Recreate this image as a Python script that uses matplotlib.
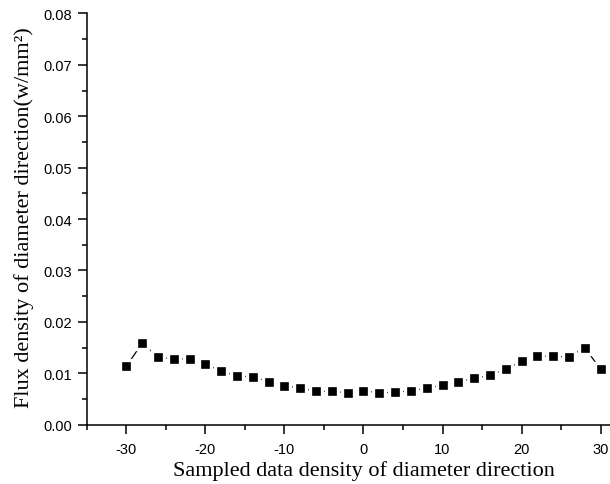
import matplotlib
matplotlib.use('Agg')
import matplotlib.pyplot as plt
from matplotlib.ticker import MultipleLocator

# Muestreo a lo largo del diametro
posiciones = list(range(-30, 31, 2))
flujo = [0.0114, 0.0159, 0.0131, 0.0128, 0.0128, 0.0118, 0.0104, 0.0095,
         0.0093, 0.0084, 0.0076, 0.0071, 0.0065, 0.0065, 0.0062, 0.0066,
         0.0062, 0.0063, 0.0066, 0.0071, 0.0077, 0.0084, 0.0090, 0.0096,
         0.0108, 0.0123, 0.0134, 0.0133, 0.0132, 0.0150, 0.0108]

plt.rcParams['axes.unicode_minus'] = False

fig = plt.figure(figsize=(6.1, 4.85), dpi=100)
# el eje x se prolonga mas alla del borde derecho
ax = fig.add_axes([0.1426, 0.1223, 0.9066, 0.848])

ax.plot(posiciones, flujo, color='black', linewidth=0.9,
        marker='s', markersize=9.3, markerfacecolor='black',
        markeredgecolor='white', markeredgewidth=2.4, zorder=3)

ax.set_xlim(-35, 35)
ax.set_ylim(0, 0.08)
ax.xaxis.set_major_locator(MultipleLocator(10))
ax.xaxis.set_minor_locator(MultipleLocator(5))
ax.yaxis.set_major_locator(MultipleLocator(0.01))
ax.yaxis.set_minor_locator(MultipleLocator(0.005))
ax.yaxis.set_major_formatter(matplotlib.ticker.FormatStrFormatter('%.2f'))

ax.spines['top'].set_visible(False)
ax.spines['right'].set_visible(False)
for s in ('left', 'bottom'):
    ax.spines[s].set_linewidth(1.1)

ax.tick_params(which='major', direction='out', length=6.5, width=1.1,
               labelsize=10.5, pad=4)
ax.tick_params(axis='x', which='major', pad=6)
ax.tick_params(which='minor', direction='out', length=3.8, width=1.1)
for lab in ax.get_xticklabels() + ax.get_yticklabels():
    lab.set_family('Liberation Sans')

ax.set_xlabel('Sampled data density of diameter direction',
              family='Liberation Serif', fontsize=16, labelpad=3)
ax.set_ylabel('Flux density of diameter direction(w/mm²)',
              family='Liberation Serif', fontsize=16)
ax.yaxis.set_label_coords(-0.096, 0.505)

fig.savefig('out.png', dpi=100)
